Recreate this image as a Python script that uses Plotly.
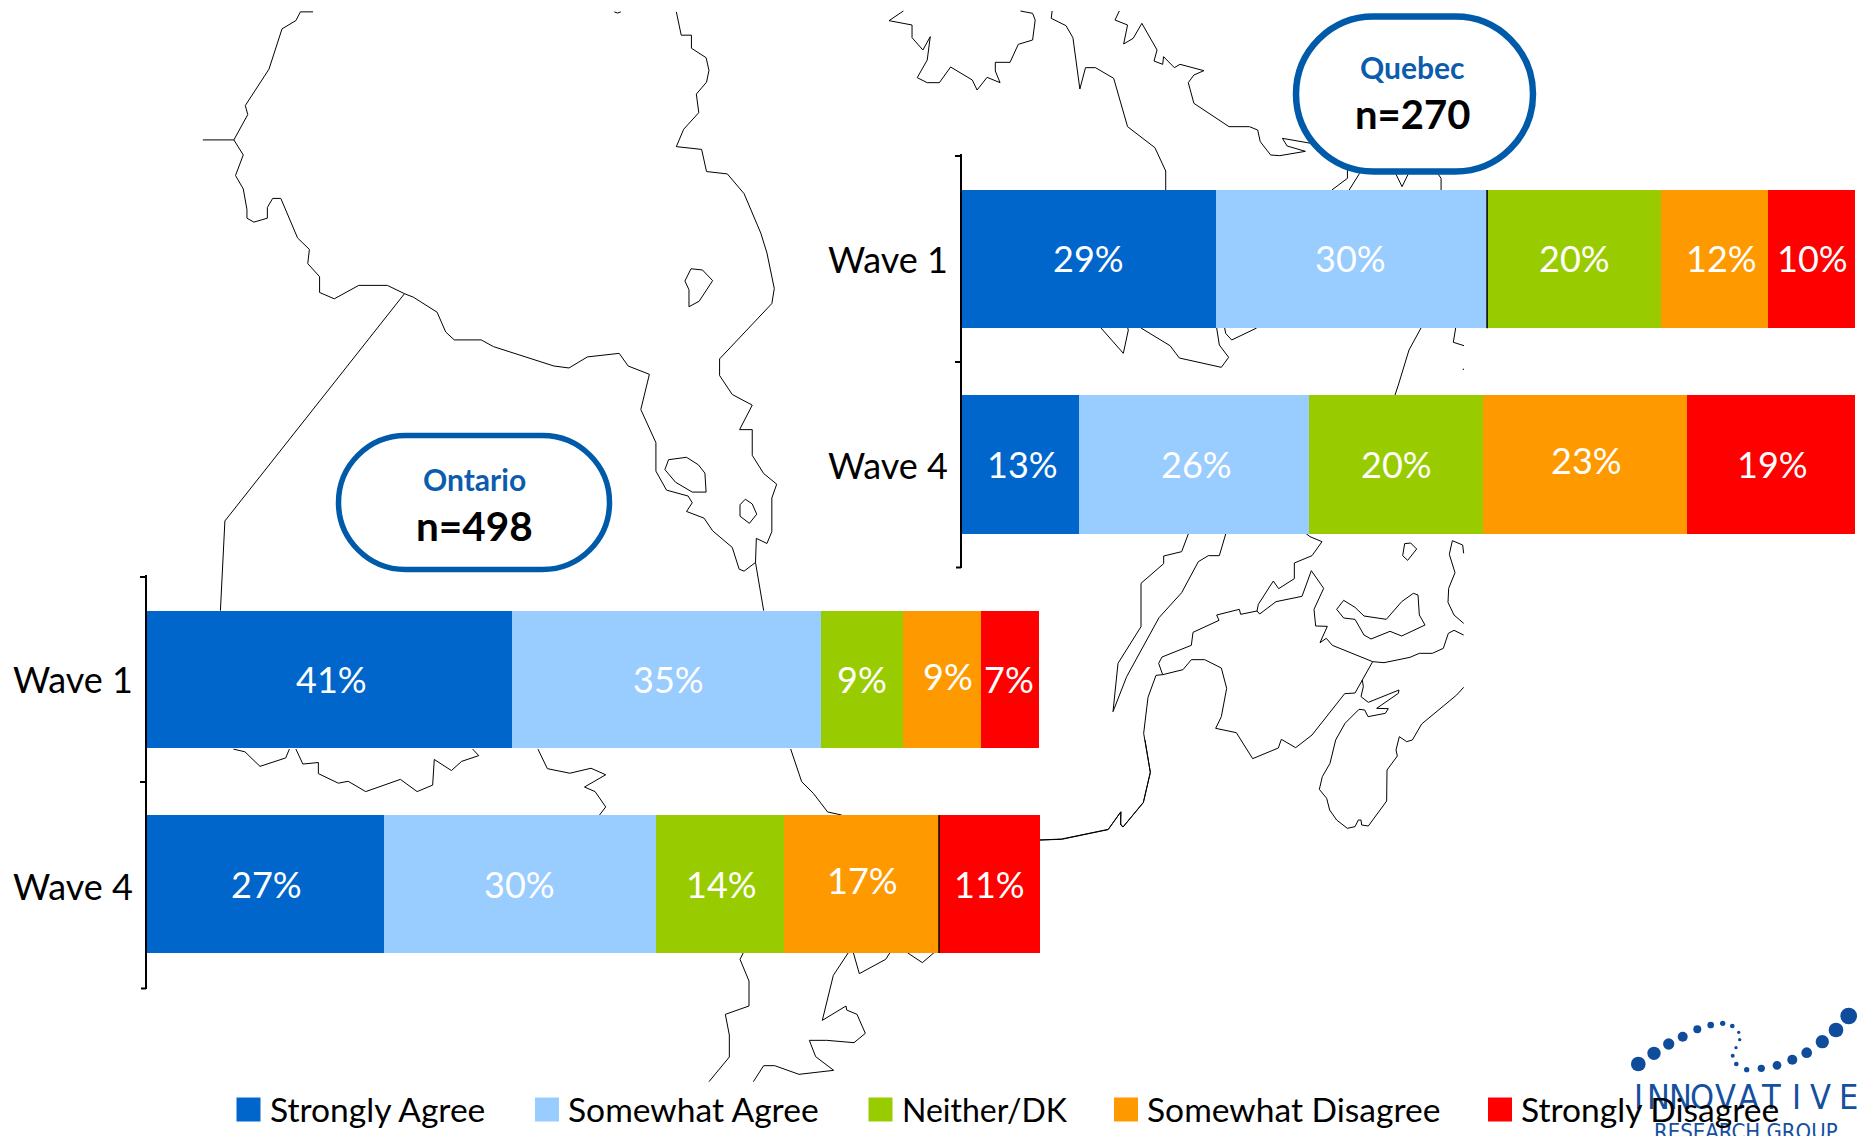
import plotly.graph_objects as go

# ---------- chart data ----------
categories = ["Wave 1", "Wave 4"]
segments = ["Strongly Agree", "Somewhat Agree", "Neither/DK", "Somewhat Disagree", "Strongly Disagree"]
colors = ["#0066CC", "#99CCFF", "#99CC00", "#FF9900", "#FF0000"]

ontario_wave1 = [40.9, 34.6, 9.2, 8.7, 6.5]
ontario_wave4 = [26.6, 30.4, 14.4, 17.3, 11.3]
quebec_wave1 = [28.4, 30.4, 19.5, 12.0, 9.7]
quebec_wave4 = [13.1, 25.8, 19.4, 22.9, 18.8]

ontario_labels = [["41%", "35%", "9%", "9%", "7%"], ["27%", "30%", "14%", "17%", "11%"]]
quebec_labels = [["29%", "30%", "20%", "12%", "10%"], ["13%", "26%", "20%", "23%", "19%"]]
ontario_shift = [[0, 0, 0, 3, 0], [0, 0, 0, 4, 0]]
quebec_shift = [[1, 1, 1, 1, 1], [1, 1, 1, 5, 1]]
ontario_xshift = [[2, 2, 0, 6, -1], [1, 0, 1, 1, 0]]
quebec_xshift = [[0, -1, 0, 7, 1], [2, 2, 0, 2, 1]]

logo_x = [1638.3,1654,1668.7,1682.7,1697.3,1710.7,1722.7,1732.3,1738.7,1739.7,1736,1732.7,1736.3,1746.7,1761.3,1777,1792.3,1806.7,1822.3,1836,1848.7]
logo_y = [1064,1053.3,1044,1036.7,1029.3,1025,1023.3,1026,1032.3,1039.7,1047.7,1055.7,1064,1069.7,1068.3,1065.3,1059.7,1052.7,1041.7,1030,1016]
logo_d = [14.7,13.3,11.3,10,8,6.7,5.3,4.7,3.3,3.3,3.3,4,4.7,5.3,7.3,8.7,10,10.7,13.3,14.7,16.7]
logo_letters = list("INNOVATIVE")
logo_letter_x = [1638, 1658, 1680, 1702, 1725, 1748, 1771, 1796, 1820, 1848]

def crop(ox, oy, sx, sy, pts):
    return [(ox + p[0] / sx, oy + p[1] / sy) for p in pts]

map_lines = []
a = (180, 0, 2.45, 2.53)
map_lines += [crop(*a, p) for p in [
    [(326,30),(295,30),(284,52),(250,73),(218,175),(160,267),(166,290),(132,354),(155,392),(136,444),(155,478),(164,530),(164,552),(181,562),(214,552),(214,525),(227,502),(247,502),(288,602),(317,631),(313,667),(342,700),(342,740),(378,756),(438,722),(508,722),(550,743),(572,752),(630,790),(651,840),(672,860),(738,860),(768,877),(916,926),(953,931),(998,903),(1076,894),(1098,926),(1150,947),(1129,1036),(1166,1120),(1166,1192),(1192,1240),(1245,1255),(1255,1272),(1241,1294),(1284,1311),(1305,1343),(1353,1385),(1370,1440),(1382,1445),(1410,1423),(1412,1362),(1438,1375),(1450,1345),(1450,1260),(1462,1225),(1430,1198),(1402,1152),(1402,1087),(1371,1087),(1402,1025),(1353,998),(1322,950),(1322,908),(1450,768),(1456,730),(1438,640),(1423,590),(1382,490),(1341,440),(1290,434),(1278,378),(1216,371),(1234,327),(1271,285),(1265,238),(1290,208),(1296,178),(1289,146),(1253,122),(1253,89),(1228,89),(1216,30)],
    [(56,354),(132,354)],
    [(550,743),(110,1318),(99,1545)],
    [(1064,30),(1072,33),(1080,30)],
    [(1252,680),(1280,683),(1305,710),(1272,762),(1247,776),(1247,733),(1237,711),(1252,680)],
    [(1197,1163),(1241,1157),(1270,1176),(1286,1197),(1289,1245),(1255,1245),(1214,1220),(1188,1188),(1197,1163)],
    [(1385,1263),(1402,1275),(1413,1301),(1395,1324),(1372,1306),(1372,1277),(1385,1263)],
    [(1410,1423),(1430,1545)],
]]
b = (0, 420, 2.45, 2.613)
map_lines += [crop(*b, p) for p in [
    [(572,860),(600,867),(637,905),(700,883),(709,860)],
    [(725,860),(742,899),(780,895),(780,924),(829,949),(853,944),(896,971),(981,939),(1022,971),(1060,954),(1064,887),(1106,916),(1131,892),(1173,877),(1158,860)],
    [(1318,860),(1341,911),(1396,923),(1448,910),(1484,927),(1432,959),(1458,971),(1484,1011),(1469,1032)],
]]
c = (680, 740, 3, 3)
map_lines += [crop(*c, p) for p in [
    [(332,27),(365,125),(400,160),(443,216),(485,225)],
    [(190,638),(180,658),(207,723),(207,798),(136,823),(148,885),(148,951),(87,1025)],
    [(505,638),(460,706),(427,841),(498,798),(500,810),(531,823),(556,880),(522,908),(440,901),(388,901),(407,950),(461,991),(357,1003),(284,977),(251,977),(220,1025)],
    [(520,638),(538,701),(617,658),(630,638)],
    [(682,638),(727,668),(762,638)],
]]
d = (1030, 520, 3, 3)
map_lines += [crop(*d, p) for p in [
    [(30,960),(95,958),(234,929),(272,876),(272,915),(279,921),(340,848),(361,757),(341,640),(354,532),(378,466),(398,464),(459,449),(484,419),(524,419),(574,444),(590,505),(574,590),(557,625),(619,638),(668,716),(745,684),(754,658),(797,683),(846,645),(944,521),(975,519),(997,480),(1028,425),(1062,428),(1140,412),(1168,400),(1207,400),(1240,385),(1255,340),(1272,331),(1301,345)],
    [(398,464),(386,430),(396,411),(484,376),(489,337),(567,301),(560,285),(628,268),(632,283),(681,273),(689,282),(738,245),(816,229),(844,152),(881,205),(852,268),(857,318),(892,319),(870,368),(889,355),(907,376),(1028,425)],
    [(681,273),(685,253),(730,183),(746,206),(793,176),(793,129),(846,107),(876,65),(840,50),(826,39)],
    [(997,480),(1000,500),(993,530),(1015,547),(1107,510),(1105,520),(1040,565),(1075,566),(1066,580),(1014,590),(1004,570),(987,568),(945,610),(917,660),(900,730),(877,770),(868,808),(890,835),(899,870),(920,900),(952,925),(975,920),(985,900),(993,900),(995,915),(1015,918),(1070,843),(1071,750),(1102,708),(1098,690),(1108,650),(1130,665),(1147,660),(1175,612),(1280,525),(1301,502)],
    [(1301,100),(1298,75),(1267,62),(1258,103),(1275,158),(1256,205),(1254,247),(1272,285),(1301,310)],
    [(1124,71),(1142,69),(1160,87),(1133,121),(1118,107),(1124,71)],
    [(941,241),(975,262),(1002,288),(1069,298),(1115,245),(1150,220),(1164,225),(1168,285),(1185,315),(1115,348),(1080,334),(1023,357),(1002,345),(975,298),(941,294),(920,268),(941,241)],
    [(476,39),(455,95),(401,108),(401,131),(333,190),(333,320),(264,430),(249,575),(290,470),(387,293),(455,218),(505,125),(535,107),(568,107),(588,39)],
]]
map_lines.append(crop(680, 740, 3, 3, [(1080,300),(1145,297),(1285,268),(1323,215),(1322,252),(1329,261),(1390,187),(1411,97),(1395,0)]))
e = (860, 0, 2.306, 3)
map_lines += [crop(*e, p) for p in [
    [(100,33),(67,62),(120,75),(120,113),(145,150),(162,110),(155,180),(132,233),(155,248),(183,248),(209,201),(259,240),(270,270),(293,232),(323,248),(312,213),(312,187),(346,187),(365,133),(398,120),(404,60),(398,40),(370,33)],
    [(443,33),(441,55),(475,77),(491,113),(507,267),(520,203),(543,203),(585,235),(617,380),(680,443),(705,513),(705,570)],
    [(598,33),(588,60),(617,75),(608,132),(630,115),(650,70),(685,150),(678,183),(698,193),(700,170),(725,203),(738,193),(793,212),(770,225),(757,248),(770,310),(851,380),(898,380),(917,390),(923,425),(947,465),(968,467),(1027,454),(985,438),(974,415),(1040,430)],
    [(1124,510),(1124,535),(1088,570)],
    [(1152,520),(1128,570)],
    [(1235,520),(1250,560),(1265,520)],
    [(1332,520),(1340,535),(1340,570)],
]]
f = (1060, 325, 3, 3)
map_lines += [crop(*f, p) for p in [
    [(123,9),(190,85),(205,15),(203,9)],
    [(243,9),(330,62),(358,99),(484,127),(506,97),(478,60),(470,9)],
    [(494,9),(497,25),(515,45),(590,9)],
    [(1083,9),(1047,75),(1015,180),(1005,210)],
    [(1187,9),(1180,52),(1212,62)],
    [(1210,131),(1210,135)],
]]

# ---------- figure ----------
W, H = 1872, 1136
BARGAP = 0.327
fig = go.Figure()

mx, my = [], []
for line in map_lines:
    mx += [p[0] for p in line] + [None]
    my += [p[1] for p in line] + [None]
fig.add_trace(go.Scatter(x=mx, y=my, mode="lines", line=dict(color="black", width=1),
                         hoverinfo="skip", showlegend=False, xaxis="x", yaxis="y"))
fig.add_trace(go.Scatter(x=logo_x, y=logo_y, mode="markers",
                         marker=dict(color="#0F4C9C", size=logo_d, opacity=1, line=dict(width=0)),
                         hoverinfo="skip", showlegend=False, xaxis="x", yaxis="y"))

legend_sq_x = [248.5, 547, 880.5, 1126, 1500]
legend_tx_x = [268, 566, 900, 1145, 1519]
legend_sizes = [33.6, 33.6, 32, 33.6, 33.6]
fig.add_trace(go.Scatter(x=legend_sq_x, y=[1109.5] * 5, mode="markers",
                         marker=dict(symbol="square", size=24, color=colors, line=dict(width=0)),
                         hoverinfo="skip", showlegend=False, xaxis="x", yaxis="y"))

annotations = []
def text(x, y, s, size, color="black", bold=False, xref="x", yref="y", anchor="center", yshift=0, xshift=0, font="Lato"):
    annotations.append(dict(x=x, y=y, xref=xref, yref=yref, text=f"<b>{s}</b>" if bold else s,
                            showarrow=False, xanchor=anchor, yanchor="middle", yshift=yshift, xshift=xshift,
                            font=dict(family=font, size=size, color=color)))

def panel(xa, ya, rows, labels, shifts, xshifts, cat_shift):
    for i in range(5):
        fig.add_trace(go.Bar(y=categories, x=[rows[0][i], rows[1][i]], orientation="h", name=segments[i],
                             marker=dict(color=colors[i], line=dict(width=0)), showlegend=False,
                             xaxis=xa, yaxis=ya, hoverinfo="skip"))
    for r in range(2):
        text(0, categories[r], categories[r], 36, xref=xa, yref=ya, anchor="right", xshift=-12, yshift=cat_shift[r])
        left = 0
        for i in range(5):
            text(left + rows[r][i] / 2, categories[r], labels[r][i], 36, "white",
                 xref=xa, yref=ya, yshift=shifts[r][i], xshift=xshifts[r][i])
            left += rows[r][i]

panel("x2", "y2", [ontario_wave1, ontario_wave4], ontario_labels, ontario_shift, ontario_xshift, [0, -2])
panel("x3", "y3", [quebec_wave1, quebec_wave4], quebec_labels, quebec_shift, quebec_xshift, [0, 0])

# logo lettering, legend text above it
LOGO_FONT = "DejaVu Sans Condensed, Liberation Sans"
for ch, x in zip(logo_letters, logo_letter_x):
    text(x, 1097, ch, 34, "#14509F", font=LOGO_FONT)
text(1746, 1131, "RESEARCH GROUP", 22, "#14509F", font=LOGO_FONT)
for s, x, size in zip(segments, legend_tx_x, legend_sizes):
    text(x, 1109, s, size, anchor="left")

# callout titles
text(474, 479, "Ontario", 30, "#0B5CAD", bold=True)
text(474, 525, "n=498", 40.5, bold=True)
text(1412, 67, "Quebec", 30, "#0B5CAD", bold=True)
text(1412, 114, "n=270", 40, bold=True)

def stadium(x0, y0, x1, y1, r):
    k = r * 0.448
    return (f"M{x0+r},{y0} L{x1-r},{y0} C{x1-k},{y0} {x1},{y0+k} {x1},{y0+r} L{x1},{y1-r} "
            f"C{x1},{y1-k} {x1-k},{y1} {x1-r},{y1} L{x0+r},{y1} C{x0+k},{y1} {x0},{y1-k} {x0},{y1-r} "
            f"L{x0},{y0+r} C{x0},{y0+k} {x0+k},{y0} {x0+r},{y0} Z")

half_bar = (1 - BARGAP) / 2
tick_line = dict(color="black", width=2)
shapes = [
    dict(type="path", path=stadium(338.5, 435.5, 609.5, 569.5, 67), xref="x", yref="y", layer="above",
         fillcolor="white", line=dict(color="#005AAA", width=5.5)),
    dict(type="path", path=stadium(1296, 16.5, 1533, 171.5, 77.5), xref="x", yref="y", layer="above",
         fillcolor="white", line=dict(color="#005AAA", width=6.5)),
    # closing ticks at the foot of each axis
    dict(type="line", xref="x", yref="y", x0=141, x1=146, y0=988.5, y1=988.5, line=tick_line),
    dict(type="line", xref="x", yref="y", x0=956, x1=961, y0=567.5, y1=567.5, line=tick_line),
    # thin dark divisions seen on two bars
    dict(type="line", xref="x3", yref="y3", x0=sum(quebec_wave1[:2]), x1=sum(quebec_wave1[:2]), y0=-half_bar, y1=half_bar,
         line=dict(color="black", width=1.5), layer="above"),
    dict(type="line", xref="x2", yref="y2", x0=sum(ontario_wave4[:4]), x1=sum(ontario_wave4[:4]), y0=1-half_bar, y1=1+half_bar,
         line=dict(color="black", width=1.5), layer="above"),
]

hidden = dict(visible=False, fixedrange=True)
def bar_x(x0, x1):
    return dict(visible=False, range=[0, 100], domain=[x0 / W, x1 / W], fixedrange=True)
def bar_y(y0, y1, anchor, rng):
    return dict(domain=[1 - y1 / H, 1 - y0 / H], type="category", categoryorder="array",
                categoryarray=categories, range=rng, anchor=anchor, showline=True,
                linecolor="black", linewidth=2, ticks="outside", ticklen=5, tickwidth=2, tickcolor="black",
                tickson="boundaries", showgrid=False, zeroline=False, fixedrange=True,
                showticklabels=False)

fig.update_layout(
    width=W, height=H, margin=dict(l=0, r=0, t=0, b=0), paper_bgcolor="white", plot_bgcolor="rgba(0,0,0,0)",
    barmode="stack", bargap=BARGAP, showlegend=False, hovermode=False,
    xaxis=dict(range=[0, W], domain=[0, 1], **hidden),
    yaxis=dict(range=[H, 0], domain=[0, 1], **hidden),
    xaxis2=bar_x(146.5, 1040), yaxis2=bar_y(575, 989, "x2", [1.512, -0.51]),
    xaxis3=bar_x(962, 1855), yaxis3=bar_y(154, 568, "x3", [1.504, -0.512]),
    annotations=annotations, shapes=shapes,
)
fig.write_html("out.html", config={"displayModeBar": False}, post_script="document.body.style.margin='0';")
